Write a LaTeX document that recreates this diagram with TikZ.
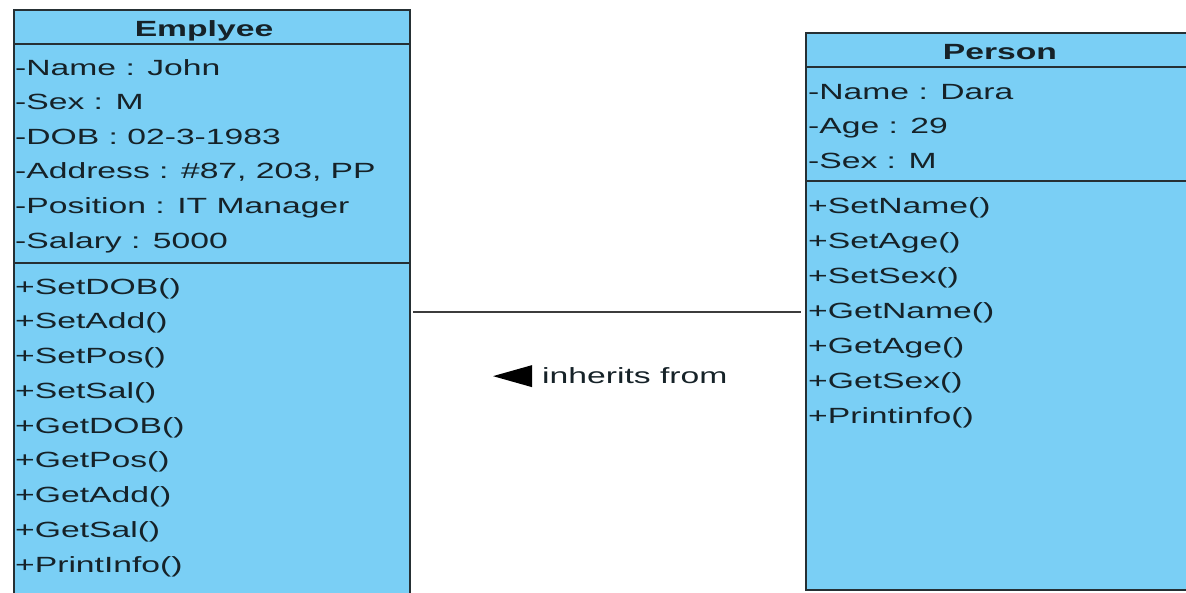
\documentclass[tikz,border=0pt]{standalone}
\usepackage{fontspec}
\setmainfont{Liberation Sans}[FakeStretch=1.53]
\usetikzlibrary{calc}
\definecolor{classfill}{RGB}{122,207,245}
\definecolor{classline}{RGB}{38,48,52}
\definecolor{classtext}{RGB}{22,34,40}
\definecolor{linkline}{RGB}{60,60,60}
\begin{document}
\begin{tikzpicture}[x=1pt,y=-1pt,
  classbox/.style={draw=classline,fill=classfill,line width=2.4pt,rectangle,inner sep=0pt},
  sepline/.style={draw=classline,line width=2.4pt},
  member/.style={anchor=base west,inner sep=0pt,text=classtext,font=\fontsize{22}{26}\selectfont},
  title/.style={anchor=base,inner sep=0pt,text=classtext,font=\fontsize{22}{26}\selectfont\bfseries},
  link/.style={draw=linkline,line width=2pt}]
\useasboundingbox (0,0) rectangle (1186,592);
\clip (0,0) rectangle (1186,592);
\fill[white] (0,0) rectangle (1186,592);

% Employee class (runs past the lower edge)
\node[classbox,minimum width=396pt,minimum height=640pt,anchor=north west] (employee) at (13,9) {};
\draw[sepline] (13,44) -- (409,44);
\draw[sepline] (13,263) -- (409,263);
\node[title] (empname) at (204,36) {Emplyee};
\foreach \t [count=\i] in {{-Name : John},{-Sex : M},{-DOB : 02-3-1983},{-Address : \#87, 203, PP},{-Position : IT Manager},{-Salary : 5000}}
  \node[member] (ea\i) at (15,{75+(\i-1)*34.6}) {\t};
\foreach \t [count=\i] in {+SetDOB(),+SetAdd(),+SetPos(),+SetSal(),+GetDOB(),+GetPos(),+GetAdd(),+GetSal(),+PrintInfo()}
  \node[member] (em\i) at (15,{294+(\i-1)*34.75}) {\t};

% Person class (runs past the right edge)
\node[classbox,minimum width=420pt,minimum height=557pt,anchor=north west] (person) at (805,32) {};
\draw[sepline] (805,67) -- (1230,67);
\draw[sepline] (805,181) -- (1230,181);
\node[title] (pername) at (1000,59) {Person};
\foreach \t [count=\i] in {{-Name : Dara},{-Age : 29},{-Sex : M}}
  \node[member] (pa\i) at (808,{99+(\i-1)*34.5}) {\t};
\foreach \t [count=\i] in {+SetName(),+SetAge(),+SetSex(),+GetName(),+GetAge(),+GetSex(),+Printinfo()}
  \node[member] (pm\i) at (808,{213+(\i-1)*35}) {\t};

% Inheritance link
\coordinate (lnk) at (0,312);
\draw[link,shorten <=2pt,shorten >=4pt] (lnk -| employee.east) -- (lnk -| person.west);
\node[anchor=base west,inner sep=0pt,text=classtext,font=\fontsize{22}{26}\selectfont] (inh) at (542,383) {inherits from};
\fill[black] ($(inh.west)+(-49,1)$) -- ($(inh.west)+(-10,-10)$) -- ($(inh.west)+(-10,12)$) -- cycle;
\end{tikzpicture}
\end{document}
